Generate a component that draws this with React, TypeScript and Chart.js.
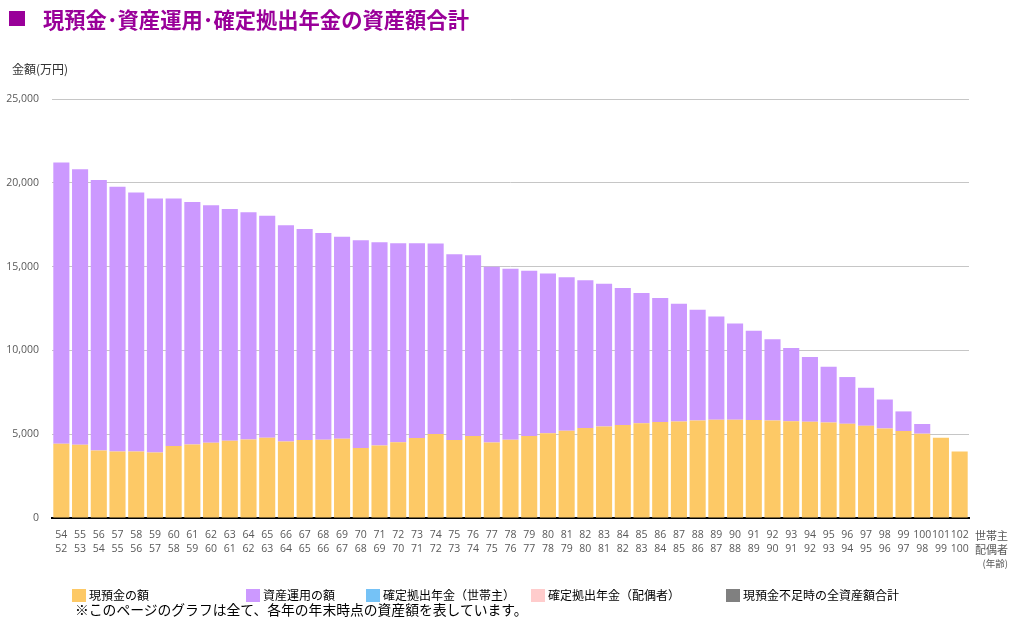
import React, { useEffect, useRef } from "react";
import { Chart, registerables } from "chart.js";

Chart.register(...registerables);

const husbandAges = [
  "54", "55", "56", "57", "58", "59", "60", "61", "62", "63", "64", "65", "66", "67", "68", "69", "70",
  "71", "72", "73", "74", "75", "76", "77", "78", "79", "80", "81", "82", "83", "84", "85", "86", "87",
  "88", "89", "90", "91", "92", "93", "94", "95", "96", "97", "98", "99", "100", "101", "102",
];
const spouseAges = [
  "52", "53", "54", "55", "56", "57", "58", "59", "60", "61", "62", "63", "64", "65", "66", "67", "68",
  "69", "70", "71", "72", "73", "74", "75", "76", "77", "78", "79", "80", "81", "82", "83", "84", "85",
  "86", "87", "88", "89", "90", "91", "92", "93", "94", "95", "96", "97", "98", "99", "100",
];

// 現預金の額 (万円)
const cashValues = [
  4430, 4370, 4030, 3970, 3970, 3910, 4290, 4390, 4490, 4610, 4690, 4790, 4570, 4650, 4670, 4730, 4170,
  4330, 4520, 4780, 5010, 4660, 4900, 4500, 4670, 4900, 5050, 5210, 5370, 5460, 5550, 5650, 5730, 5760,
  5820, 5860, 5860, 5840, 5820, 5780, 5740, 5700, 5620, 5500, 5340, 5190, 5030, 4790, 3970,
];
// 資産運用の額 (万円)
const investValues = [
  16780, 16440, 16130, 15800, 15450, 15150, 14770, 14470, 14170, 13830, 13560, 13240, 12900, 12600, 12340,
  12050, 12400, 12130, 11880, 11620, 11370, 11080, 10780, 10490, 10200, 9850, 9540, 9160, 8820, 8510,
  8170, 7770, 7390, 7020, 6600, 6160, 5740, 5330, 4850, 4370, 3860, 3320, 2790, 2270, 1730, 1170, 580,
  0, 0,
];
const dcHusbandValues: number[] = [];
const dcSpouseValues: number[] = [];
const shortageTotalValues: number[] = [];

const yTicks = [0, 5000, 10000, 15000, 20000, 25000];

const seriesNames = [
  "現預金の額",
  "資産運用の額",
  "確定拠出年金（世帯主）",
  "確定拠出年金（配偶者）",
  "現預金不足時の全資産額合計",
];
const seriesColors = ["#FDC966", "#CC99FF", "#75C2F6", "#FFCCCC", "#808080"];

const JP = "'Noto Sans CJK JP', 'Noto Sans', sans-serif";
const NUM = "'Open Sans', 'Noto Sans', sans-serif";

export default function App() {
  const canvasRef = useRef<HTMLCanvasElement>(null);

  useEffect(() => {
    if (!canvasRef.current) return;
    const chart = new Chart(canvasRef.current, {
      type: "bar",
      data: {
        labels: husbandAges.map((h, i) => [h, spouseAges[i]]),
        datasets: [
          { label: seriesNames[0], data: cashValues, backgroundColor: seriesColors[0] },
          { label: seriesNames[1], data: investValues, backgroundColor: seriesColors[1] },
          { label: seriesNames[2], data: dcHusbandValues, backgroundColor: seriesColors[2] },
          { label: seriesNames[3], data: dcSpouseValues, backgroundColor: seriesColors[3] },
          { label: seriesNames[4], data: shortageTotalValues, backgroundColor: seriesColors[4] },
        ],
      },
      options: {
        responsive: false,
        animation: false,
        layout: { padding: { top: 99, right: 46, bottom: 0, left: 0 } },
        datasets: { bar: { barPercentage: 0.86, categoryPercentage: 1 } },
        plugins: { legend: { display: false }, tooltip: { enabled: false }, title: { display: false } },
        scales: {
          x: {
            stacked: true,
            grid: { display: false, drawTicks: false },
            border: { display: true, color: "#000000", width: 2 },
            ticks: {
              autoSkip: false,
              maxRotation: 0,
              minRotation: 0,
              padding: 10,
              color: "#595959",
              font: { family: NUM, size: 10.5, lineHeight: 14 / 10.5 },
            },
            afterFit: (scale: any) => {
              scale.height = 105;
            },
          },
          y: {
            stacked: true,
            min: 0,
            max: 25000,
            afterBuildTicks: (scale: any) => {
              scale.ticks = yTicks.map((v) => ({ value: v }));
            },
            grid: { color: "#C6C6C6", lineWidth: 1, drawTicks: false },
            border: { display: false },
            ticks: {
              padding: 13,
              color: "#595959",
              font: { family: NUM, size: 10.5 },
              callback: (v: any) => Number(v).toLocaleString("en-US"),
            },
            afterFit: (scale: any) => {
              scale.width = 52;
            },
          },
        },
      },
    });
    return () => chart.destroy();
  }, []);

  const legendPos = [72, 246, 366, 531, 726];

  return (
    <div
      style={{
        position: "fixed",
        left: 0,
        top: 0,
        width: 1015,
        height: 623,
        background: "#ffffff",
        overflow: "hidden",
        fontFamily: JP,
      }}
    >
      <canvas ref={canvasRef} width={1015} height={623} style={{ position: "absolute", left: 0, top: 0, width: 1015, height: 623 }} />
      <div style={{ position: "absolute", left: 9, top: 11, width: 16, height: 15, background: "#990099" }} />
      <div
        style={{
          position: "absolute",
          left: 43,
          top: 5,
          fontSize: 21.3,
          fontWeight: 700,
          color: "#990099",
          lineHeight: "28px",
          whiteSpace: "nowrap",
        }}
      >
        現預金･資産運用･確定拠出年金の資産額合計
      </div>
      <div style={{ position: "absolute", left: 12, top: 60, fontSize: 12, color: "#333333", lineHeight: "18px", whiteSpace: "nowrap" }}>
        金額(万円)
      </div>
      <div style={{ position: "absolute", right: 7, top: 528, fontSize: 11, color: "#595959", lineHeight: "14px", textAlign: "right", whiteSpace: "nowrap" }}>
        <div>世帯主</div>
        <div>配偶者</div>
        <div style={{ fontSize: 9.5 }}>(年齢)</div>
      </div>
      {seriesNames.map((name, i) => (
        <div key={name} style={{ position: "absolute", left: legendPos[i], top: 588, height: 14, display: "flex", alignItems: "center", whiteSpace: "nowrap" }}>
          <div style={{ width: 14, height: 13, background: seriesColors[i], marginRight: 3 }} />
          <span style={{ fontSize: 12, color: "#000000", lineHeight: "14px" }}>{name}</span>
        </div>
      ))}
      <div style={{ position: "absolute", left: 75, top: 600, fontSize: 13.8, color: "#000000", lineHeight: "18px", whiteSpace: "nowrap" }}>
        ※このページのグラフは全て、各年の年末時点の資産額を表しています。
      </div>
    </div>
  );
}
